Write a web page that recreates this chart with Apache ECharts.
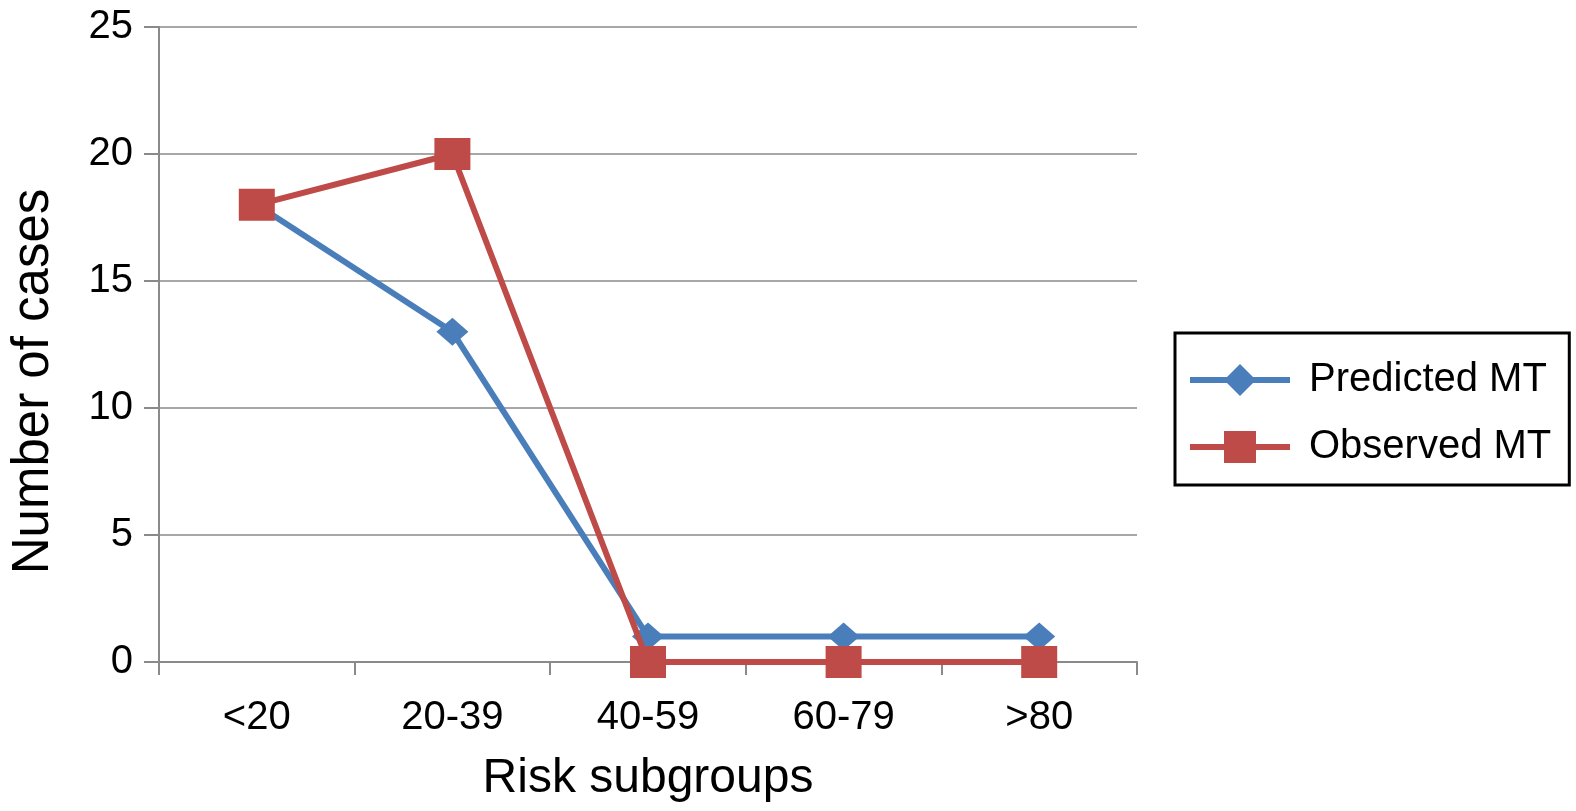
<!DOCTYPE html>
<html>
<head>
<meta charset="utf-8">
<script src="https://cdn.jsdelivr.net/npm/echarts@6/dist/echarts.min.js"></script>
<style>html,body{margin:0;padding:0;background:#fff;}#c{width:1576px;height:811px;}</style>
</head>
<body>
<div id="c"></div>
<script>
var categories = ['<20', '20-39', '40-59', '60-79', '>80'];
var predicted = [18, 13, 1, 1, 1];
var observed = [18, 20, 0, 0, 0];
var seriesNames = ['Predicted MT', 'Observed MT'];

var chart = echarts.init(document.getElementById('c'));
var font = 'Liberation Sans, Arial, sans-serif';
chart.setOption({
  animation: false,
  backgroundColor: '#fff',
  grid: { left: 154, right: 439, top: 27, bottom: 149 },
  xAxis: {
    type: 'category',
    data: categories,
    boundaryGap: true,
    name: 'Risk subgroups',
    nameLocation: 'middle',
    nameGap: 93,
    nameTextStyle: { fontFamily: font, fontSize: 48, color: '#000' },
    axisLine: { lineStyle: { color: '#8a8a8a', width: 2 } },
    axisTick: { show: true, alignWithLabel: false, length: 13, lineStyle: { color: '#8a8a8a', width: 2 } },
    axisLabel: { fontFamily: font, fontSize: 40, color: '#000', margin: 36 },
    splitLine: { show: false }
  },
  yAxis: {
    type: 'value',
    min: 0, max: 25, interval: 5,
    name: 'Number of cases',
    nameLocation: 'middle',
    nameRotate: 90,
    nameGap: 100,
    nameTextStyle: { fontFamily: font, fontSize: 51, color: '#000', padding: [0, 74, 0, 0] },
    axisLine: { show: true, lineStyle: { color: '#8a8a8a', width: 2 } },
    axisTick: { show: true, length: 15, lineStyle: { color: '#8a8a8a', width: 2 } },
    axisLabel: { fontFamily: font, fontSize: 40, color: '#000', margin: 26 },
    splitLine: { show: true, lineStyle: { color: '#8a8a8a', width: 1.5 } }
  },
  legend: {
    orient: 'vertical',
    left: 1175, top: 333,
    padding: [27, 18, 18, 12],
    itemGap: 27,
    itemWidth: 100,
    itemHeight: 40,
    borderColor: '#000',
    borderWidth: 3,
    borderRadius: 0,
    lineStyle: { width: 6 },
    textStyle: { fontFamily: font, fontSize: 40, color: '#000', padding: [0, 0, 0, 14] },
    data: seriesNames
  },
  series: [
    {
      name: seriesNames[0], type: 'line', data: predicted,
      symbol: 'diamond', symbolSize: [32, 28],
      lineStyle: { color: '#4a7ebb', width: 6 },
      itemStyle: { color: '#4a7ebb' },
      z: 2
    },
    {
      name: seriesNames[1], type: 'line', data: observed,
      symbol: 'rect', symbolSize: [36, 32],
      lineStyle: { color: '#be4b48', width: 6 },
      itemStyle: { color: '#be4b48' },
      z: 3
    }
  ]
});
</script>
</body>
</html>
